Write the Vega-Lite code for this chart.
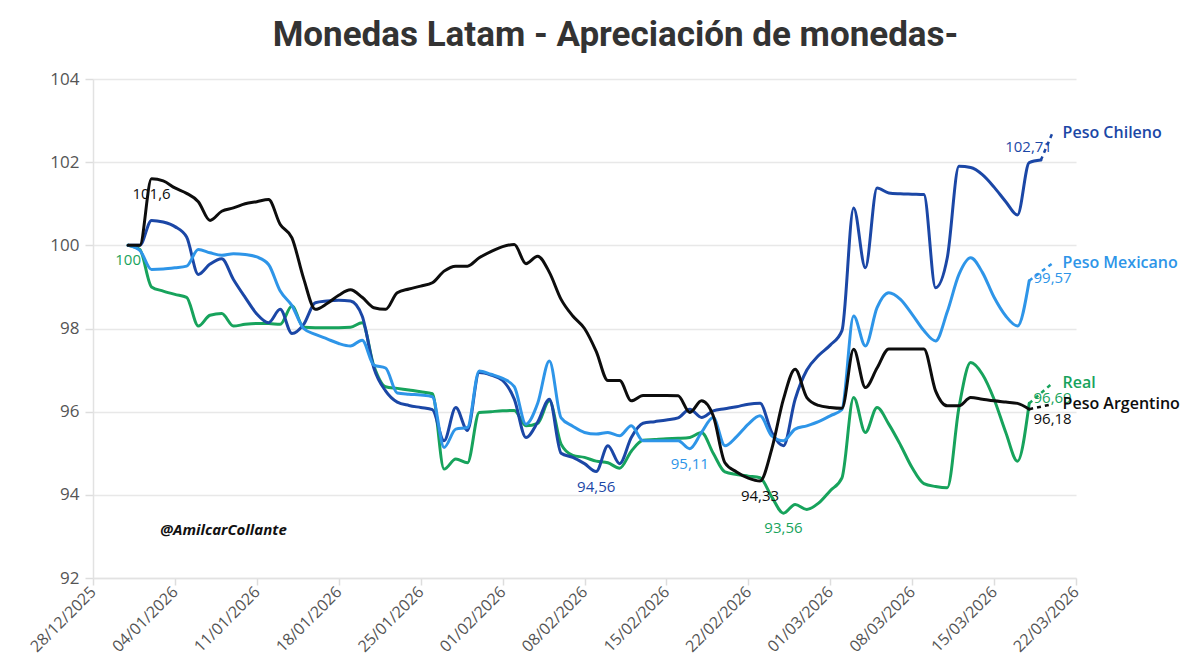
{
  "$schema": "https://vega.github.io/schema/vega-lite/v6.json",
  "width": 983,
  "height": 499,
  "autosize": {"type": "none"},
  "padding": {"left": 93, "top": 79, "right": 124, "bottom": 90},
  "background": "white",
  "title": {
    "text": "Monedas Latam - Apreciación de monedas-",
    "font": "Roboto",
    "fontSize": 35,
    "fontWeight": "bold",
    "color": "#333333",
    "anchor": "middle",
    "frame": "group",
    "dx": 31,
    "offset": 17
  },
  "config": {"view": {"stroke": null}},
  "datasets": {
    "firma": [{"date": "2026-01-03", "value": 93.15, "text": "@AmilcarCollante"}]
  },
  "data": {
    "values": [
      {"series": "Real", "date": "2025-12-31", "value": 100, "hito": true},
      {"series": "Real", "date": "2026-01-01", "value": 99.9},
      {"series": "Real", "date": "2026-01-02", "value": 99.0},
      {"series": "Real", "date": "2026-01-03", "value": 98.9},
      {"series": "Real", "date": "2026-01-04", "value": 98.82},
      {"series": "Real", "date": "2026-01-05", "value": 98.75},
      {"series": "Real", "date": "2026-01-06", "value": 98.06},
      {"series": "Real", "date": "2026-01-07", "value": 98.32},
      {"series": "Real", "date": "2026-01-08", "value": 98.36},
      {"series": "Real", "date": "2026-01-09", "value": 98.06},
      {"series": "Real", "date": "2026-01-10", "value": 98.1},
      {"series": "Real", "date": "2026-01-11", "value": 98.12},
      {"series": "Real", "date": "2026-01-12", "value": 98.12},
      {"series": "Real", "date": "2026-01-13", "value": 98.1},
      {"series": "Real", "date": "2026-01-14", "value": 98.54},
      {"series": "Real", "date": "2026-01-15", "value": 98.03},
      {"series": "Real", "date": "2026-01-16", "value": 98.02},
      {"series": "Real", "date": "2026-01-17", "value": 98.02},
      {"series": "Real", "date": "2026-01-18", "value": 98.02},
      {"series": "Real", "date": "2026-01-19", "value": 98.03},
      {"series": "Real", "date": "2026-01-20", "value": 98.14},
      {"series": "Real", "date": "2026-01-21", "value": 97.1},
      {"series": "Real", "date": "2026-01-22", "value": 96.6},
      {"series": "Real", "date": "2026-01-23", "value": 96.56},
      {"series": "Real", "date": "2026-01-24", "value": 96.52},
      {"series": "Real", "date": "2026-01-25", "value": 96.48},
      {"series": "Real", "date": "2026-01-26", "value": 96.43},
      {"series": "Real", "date": "2026-01-27", "value": 94.62},
      {"series": "Real", "date": "2026-01-28", "value": 94.86},
      {"series": "Real", "date": "2026-01-29", "value": 94.77},
      {"series": "Real", "date": "2026-01-30", "value": 95.98},
      {"series": "Real", "date": "2026-01-31", "value": 96.0},
      {"series": "Real", "date": "2026-02-01", "value": 96.02},
      {"series": "Real", "date": "2026-02-02", "value": 96.03},
      {"series": "Real", "date": "2026-02-03", "value": 95.66},
      {"series": "Real", "date": "2026-02-04", "value": 95.72},
      {"series": "Real", "date": "2026-02-05", "value": 96.26},
      {"series": "Real", "date": "2026-02-06", "value": 95.22},
      {"series": "Real", "date": "2026-02-07", "value": 94.95},
      {"series": "Real", "date": "2026-02-08", "value": 94.9},
      {"series": "Real", "date": "2026-02-09", "value": 94.81},
      {"series": "Real", "date": "2026-02-10", "value": 94.77},
      {"series": "Real", "date": "2026-02-11", "value": 94.64},
      {"series": "Real", "date": "2026-02-12", "value": 95.05},
      {"series": "Real", "date": "2026-02-13", "value": 95.31},
      {"series": "Real", "date": "2026-02-14", "value": 95.33},
      {"series": "Real", "date": "2026-02-15", "value": 95.35},
      {"series": "Real", "date": "2026-02-16", "value": 95.36},
      {"series": "Real", "date": "2026-02-17", "value": 95.38},
      {"series": "Real", "date": "2026-02-18", "value": 95.5},
      {"series": "Real", "date": "2026-02-19", "value": 95.0},
      {"series": "Real", "date": "2026-02-20", "value": 94.55},
      {"series": "Real", "date": "2026-02-21", "value": 94.49},
      {"series": "Real", "date": "2026-02-22", "value": 94.45},
      {"series": "Real", "date": "2026-02-23", "value": 94.41},
      {"series": "Real", "date": "2026-02-24", "value": 93.95},
      {"series": "Real", "date": "2026-02-25", "value": 93.56, "hito": true},
      {"series": "Real", "date": "2026-02-26", "value": 93.77},
      {"series": "Real", "date": "2026-02-27", "value": 93.65},
      {"series": "Real", "date": "2026-02-28", "value": 93.8},
      {"series": "Real", "date": "2026-03-01", "value": 94.1},
      {"series": "Real", "date": "2026-03-02", "value": 94.41},
      {"series": "Real", "date": "2026-03-03", "value": 96.34},
      {"series": "Real", "date": "2026-03-04", "value": 95.5},
      {"series": "Real", "date": "2026-03-05", "value": 96.1},
      {"series": "Real", "date": "2026-03-06", "value": 95.7},
      {"series": "Real", "date": "2026-03-07", "value": 95.2},
      {"series": "Real", "date": "2026-03-08", "value": 94.65},
      {"series": "Real", "date": "2026-03-09", "value": 94.27},
      {"series": "Real", "date": "2026-03-10", "value": 94.2},
      {"series": "Real", "date": "2026-03-11", "value": 94.17},
      {"series": "Real", "date": "2026-03-12", "value": 96.1},
      {"series": "Real", "date": "2026-03-13", "value": 97.18},
      {"series": "Real", "date": "2026-03-14", "value": 96.9},
      {"series": "Real", "date": "2026-03-15", "value": 96.3},
      {"series": "Real", "date": "2026-03-16", "value": 95.5},
      {"series": "Real", "date": "2026-03-17", "value": 94.81},
      {"series": "Real", "date": "2026-03-18", "value": 96.2},
      {"series": "Real", "date": "2026-03-20", "value": 96.69, "hito": true},

      {"series": "Peso Chileno", "date": "2025-12-31", "value": 100},
      {"series": "Peso Chileno", "date": "2026-01-01", "value": 100},
      {"series": "Peso Chileno", "date": "2026-01-02", "value": 100.6},
      {"series": "Peso Chileno", "date": "2026-01-03", "value": 100.56},
      {"series": "Peso Chileno", "date": "2026-01-04", "value": 100.45},
      {"series": "Peso Chileno", "date": "2026-01-05", "value": 100.2},
      {"series": "Peso Chileno", "date": "2026-01-06", "value": 99.3},
      {"series": "Peso Chileno", "date": "2026-01-07", "value": 99.55},
      {"series": "Peso Chileno", "date": "2026-01-08", "value": 99.68},
      {"series": "Peso Chileno", "date": "2026-01-09", "value": 99.18},
      {"series": "Peso Chileno", "date": "2026-01-10", "value": 98.75},
      {"series": "Peso Chileno", "date": "2026-01-11", "value": 98.35},
      {"series": "Peso Chileno", "date": "2026-01-12", "value": 98.14},
      {"series": "Peso Chileno", "date": "2026-01-13", "value": 98.46},
      {"series": "Peso Chileno", "date": "2026-01-14", "value": 97.88},
      {"series": "Peso Chileno", "date": "2026-01-15", "value": 98.1},
      {"series": "Peso Chileno", "date": "2026-01-16", "value": 98.62},
      {"series": "Peso Chileno", "date": "2026-01-17", "value": 98.66},
      {"series": "Peso Chileno", "date": "2026-01-18", "value": 98.68},
      {"series": "Peso Chileno", "date": "2026-01-19", "value": 98.66},
      {"series": "Peso Chileno", "date": "2026-01-20", "value": 98.3},
      {"series": "Peso Chileno", "date": "2026-01-21", "value": 97.05},
      {"series": "Peso Chileno", "date": "2026-01-22", "value": 96.5},
      {"series": "Peso Chileno", "date": "2026-01-23", "value": 96.23},
      {"series": "Peso Chileno", "date": "2026-01-24", "value": 96.15},
      {"series": "Peso Chileno", "date": "2026-01-25", "value": 96.1},
      {"series": "Peso Chileno", "date": "2026-01-26", "value": 96.05},
      {"series": "Peso Chileno", "date": "2026-01-27", "value": 95.3},
      {"series": "Peso Chileno", "date": "2026-01-28", "value": 96.1},
      {"series": "Peso Chileno", "date": "2026-01-29", "value": 95.55},
      {"series": "Peso Chileno", "date": "2026-01-30", "value": 96.94},
      {"series": "Peso Chileno", "date": "2026-01-31", "value": 96.88},
      {"series": "Peso Chileno", "date": "2026-02-01", "value": 96.75},
      {"series": "Peso Chileno", "date": "2026-02-02", "value": 96.3},
      {"series": "Peso Chileno", "date": "2026-02-03", "value": 95.38},
      {"series": "Peso Chileno", "date": "2026-02-04", "value": 95.75},
      {"series": "Peso Chileno", "date": "2026-02-05", "value": 96.3},
      {"series": "Peso Chileno", "date": "2026-02-06", "value": 95.0},
      {"series": "Peso Chileno", "date": "2026-02-07", "value": 94.9},
      {"series": "Peso Chileno", "date": "2026-02-08", "value": 94.75},
      {"series": "Peso Chileno", "date": "2026-02-09", "value": 94.56, "hito": true},
      {"series": "Peso Chileno", "date": "2026-02-10", "value": 95.18},
      {"series": "Peso Chileno", "date": "2026-02-11", "value": 94.75},
      {"series": "Peso Chileno", "date": "2026-02-12", "value": 95.38},
      {"series": "Peso Chileno", "date": "2026-02-13", "value": 95.72},
      {"series": "Peso Chileno", "date": "2026-02-14", "value": 95.76},
      {"series": "Peso Chileno", "date": "2026-02-15", "value": 95.8},
      {"series": "Peso Chileno", "date": "2026-02-16", "value": 95.85},
      {"series": "Peso Chileno", "date": "2026-02-17", "value": 96.06},
      {"series": "Peso Chileno", "date": "2026-02-18", "value": 95.86},
      {"series": "Peso Chileno", "date": "2026-02-19", "value": 96.02},
      {"series": "Peso Chileno", "date": "2026-02-20", "value": 96.07},
      {"series": "Peso Chileno", "date": "2026-02-21", "value": 96.12},
      {"series": "Peso Chileno", "date": "2026-02-22", "value": 96.18},
      {"series": "Peso Chileno", "date": "2026-02-23", "value": 96.2},
      {"series": "Peso Chileno", "date": "2026-02-24", "value": 95.5},
      {"series": "Peso Chileno", "date": "2026-02-25", "value": 95.18},
      {"series": "Peso Chileno", "date": "2026-02-26", "value": 96.3},
      {"series": "Peso Chileno", "date": "2026-02-27", "value": 97.0},
      {"series": "Peso Chileno", "date": "2026-02-28", "value": 97.35},
      {"series": "Peso Chileno", "date": "2026-03-01", "value": 97.6},
      {"series": "Peso Chileno", "date": "2026-03-02", "value": 97.95},
      {"series": "Peso Chileno", "date": "2026-03-03", "value": 100.9},
      {"series": "Peso Chileno", "date": "2026-03-04", "value": 99.46},
      {"series": "Peso Chileno", "date": "2026-03-05", "value": 101.38},
      {"series": "Peso Chileno", "date": "2026-03-06", "value": 101.26},
      {"series": "Peso Chileno", "date": "2026-03-07", "value": 101.24},
      {"series": "Peso Chileno", "date": "2026-03-08", "value": 101.23},
      {"series": "Peso Chileno", "date": "2026-03-09", "value": 101.22},
      {"series": "Peso Chileno", "date": "2026-03-10", "value": 98.98},
      {"series": "Peso Chileno", "date": "2026-03-11", "value": 99.7},
      {"series": "Peso Chileno", "date": "2026-03-12", "value": 101.9},
      {"series": "Peso Chileno", "date": "2026-03-13", "value": 101.87},
      {"series": "Peso Chileno", "date": "2026-03-14", "value": 101.7},
      {"series": "Peso Chileno", "date": "2026-03-15", "value": 101.4},
      {"series": "Peso Chileno", "date": "2026-03-16", "value": 101.05},
      {"series": "Peso Chileno", "date": "2026-03-17", "value": 100.73},
      {"series": "Peso Chileno", "date": "2026-03-18", "value": 101.99},
      {"series": "Peso Chileno", "date": "2026-03-19", "value": 102.05},
      {"series": "Peso Chileno", "date": "2026-03-20", "value": 102.71, "hito": true},

      {"series": "Peso Mexicano", "date": "2025-12-31", "value": 100},
      {"series": "Peso Mexicano", "date": "2026-01-01", "value": 99.88},
      {"series": "Peso Mexicano", "date": "2026-01-02", "value": 99.42},
      {"series": "Peso Mexicano", "date": "2026-01-03", "value": 99.43},
      {"series": "Peso Mexicano", "date": "2026-01-04", "value": 99.46},
      {"series": "Peso Mexicano", "date": "2026-01-05", "value": 99.5},
      {"series": "Peso Mexicano", "date": "2026-01-06", "value": 99.9},
      {"series": "Peso Mexicano", "date": "2026-01-07", "value": 99.82},
      {"series": "Peso Mexicano", "date": "2026-01-08", "value": 99.76},
      {"series": "Peso Mexicano", "date": "2026-01-09", "value": 99.8},
      {"series": "Peso Mexicano", "date": "2026-01-10", "value": 99.78},
      {"series": "Peso Mexicano", "date": "2026-01-11", "value": 99.72},
      {"series": "Peso Mexicano", "date": "2026-01-12", "value": 99.54},
      {"series": "Peso Mexicano", "date": "2026-01-13", "value": 98.9},
      {"series": "Peso Mexicano", "date": "2026-01-14", "value": 98.55},
      {"series": "Peso Mexicano", "date": "2026-01-15", "value": 98.0},
      {"series": "Peso Mexicano", "date": "2026-01-16", "value": 97.86},
      {"series": "Peso Mexicano", "date": "2026-01-17", "value": 97.75},
      {"series": "Peso Mexicano", "date": "2026-01-18", "value": 97.64},
      {"series": "Peso Mexicano", "date": "2026-01-19", "value": 97.58},
      {"series": "Peso Mexicano", "date": "2026-01-20", "value": 97.72},
      {"series": "Peso Mexicano", "date": "2026-01-21", "value": 97.12},
      {"series": "Peso Mexicano", "date": "2026-01-22", "value": 97.05},
      {"series": "Peso Mexicano", "date": "2026-01-23", "value": 96.45},
      {"series": "Peso Mexicano", "date": "2026-01-24", "value": 96.42},
      {"series": "Peso Mexicano", "date": "2026-01-25", "value": 96.4},
      {"series": "Peso Mexicano", "date": "2026-01-26", "value": 96.36},
      {"series": "Peso Mexicano", "date": "2026-01-27", "value": 95.14},
      {"series": "Peso Mexicano", "date": "2026-01-28", "value": 95.58},
      {"series": "Peso Mexicano", "date": "2026-01-29", "value": 95.62},
      {"series": "Peso Mexicano", "date": "2026-01-30", "value": 96.98},
      {"series": "Peso Mexicano", "date": "2026-01-31", "value": 96.9},
      {"series": "Peso Mexicano", "date": "2026-02-01", "value": 96.8},
      {"series": "Peso Mexicano", "date": "2026-02-02", "value": 96.6},
      {"series": "Peso Mexicano", "date": "2026-02-03", "value": 95.7},
      {"series": "Peso Mexicano", "date": "2026-02-04", "value": 96.2},
      {"series": "Peso Mexicano", "date": "2026-02-05", "value": 97.22},
      {"series": "Peso Mexicano", "date": "2026-02-06", "value": 95.85},
      {"series": "Peso Mexicano", "date": "2026-02-07", "value": 95.65},
      {"series": "Peso Mexicano", "date": "2026-02-08", "value": 95.5},
      {"series": "Peso Mexicano", "date": "2026-02-09", "value": 95.46},
      {"series": "Peso Mexicano", "date": "2026-02-10", "value": 95.5},
      {"series": "Peso Mexicano", "date": "2026-02-11", "value": 95.42},
      {"series": "Peso Mexicano", "date": "2026-02-12", "value": 95.66},
      {"series": "Peso Mexicano", "date": "2026-02-13", "value": 95.3},
      {"series": "Peso Mexicano", "date": "2026-02-14", "value": 95.3},
      {"series": "Peso Mexicano", "date": "2026-02-15", "value": 95.3},
      {"series": "Peso Mexicano", "date": "2026-02-16", "value": 95.3},
      {"series": "Peso Mexicano", "date": "2026-02-17", "value": 95.11, "hito": true},
      {"series": "Peso Mexicano", "date": "2026-02-18", "value": 95.5},
      {"series": "Peso Mexicano", "date": "2026-02-19", "value": 95.86},
      {"series": "Peso Mexicano", "date": "2026-02-20", "value": 95.18},
      {"series": "Peso Mexicano", "date": "2026-02-21", "value": 95.4},
      {"series": "Peso Mexicano", "date": "2026-02-22", "value": 95.7},
      {"series": "Peso Mexicano", "date": "2026-02-23", "value": 95.9},
      {"series": "Peso Mexicano", "date": "2026-02-24", "value": 95.42},
      {"series": "Peso Mexicano", "date": "2026-02-25", "value": 95.3},
      {"series": "Peso Mexicano", "date": "2026-02-26", "value": 95.58},
      {"series": "Peso Mexicano", "date": "2026-02-27", "value": 95.66},
      {"series": "Peso Mexicano", "date": "2026-02-28", "value": 95.76},
      {"series": "Peso Mexicano", "date": "2026-03-01", "value": 95.9},
      {"series": "Peso Mexicano", "date": "2026-03-02", "value": 96.05},
      {"series": "Peso Mexicano", "date": "2026-03-03", "value": 98.3},
      {"series": "Peso Mexicano", "date": "2026-03-04", "value": 97.58},
      {"series": "Peso Mexicano", "date": "2026-03-05", "value": 98.5},
      {"series": "Peso Mexicano", "date": "2026-03-06", "value": 98.86},
      {"series": "Peso Mexicano", "date": "2026-03-07", "value": 98.7},
      {"series": "Peso Mexicano", "date": "2026-03-08", "value": 98.34},
      {"series": "Peso Mexicano", "date": "2026-03-09", "value": 97.95},
      {"series": "Peso Mexicano", "date": "2026-03-10", "value": 97.7},
      {"series": "Peso Mexicano", "date": "2026-03-11", "value": 98.4},
      {"series": "Peso Mexicano", "date": "2026-03-12", "value": 99.3},
      {"series": "Peso Mexicano", "date": "2026-03-13", "value": 99.7},
      {"series": "Peso Mexicano", "date": "2026-03-14", "value": 99.35},
      {"series": "Peso Mexicano", "date": "2026-03-15", "value": 98.75},
      {"series": "Peso Mexicano", "date": "2026-03-16", "value": 98.3},
      {"series": "Peso Mexicano", "date": "2026-03-17", "value": 98.06},
      {"series": "Peso Mexicano", "date": "2026-03-18", "value": 99.15},
      {"series": "Peso Mexicano", "date": "2026-03-20", "value": 99.57, "hito": true},

      {"series": "Peso Argentino", "date": "2025-12-31", "value": 100},
      {"series": "Peso Argentino", "date": "2026-01-01", "value": 100},
      {"series": "Peso Argentino", "date": "2026-01-02", "value": 101.6, "hito": true},
      {"series": "Peso Argentino", "date": "2026-01-03", "value": 101.55},
      {"series": "Peso Argentino", "date": "2026-01-04", "value": 101.38},
      {"series": "Peso Argentino", "date": "2026-01-05", "value": 101.25},
      {"series": "Peso Argentino", "date": "2026-01-06", "value": 101.05},
      {"series": "Peso Argentino", "date": "2026-01-07", "value": 100.6},
      {"series": "Peso Argentino", "date": "2026-01-08", "value": 100.82},
      {"series": "Peso Argentino", "date": "2026-01-09", "value": 100.9},
      {"series": "Peso Argentino", "date": "2026-01-10", "value": 101.0},
      {"series": "Peso Argentino", "date": "2026-01-11", "value": 101.05},
      {"series": "Peso Argentino", "date": "2026-01-12", "value": 101.1},
      {"series": "Peso Argentino", "date": "2026-01-13", "value": 100.5},
      {"series": "Peso Argentino", "date": "2026-01-14", "value": 100.18},
      {"series": "Peso Argentino", "date": "2026-01-15", "value": 99.2},
      {"series": "Peso Argentino", "date": "2026-01-16", "value": 98.46},
      {"series": "Peso Argentino", "date": "2026-01-17", "value": 98.6},
      {"series": "Peso Argentino", "date": "2026-01-18", "value": 98.8},
      {"series": "Peso Argentino", "date": "2026-01-19", "value": 98.93},
      {"series": "Peso Argentino", "date": "2026-01-20", "value": 98.75},
      {"series": "Peso Argentino", "date": "2026-01-21", "value": 98.5},
      {"series": "Peso Argentino", "date": "2026-01-22", "value": 98.46},
      {"series": "Peso Argentino", "date": "2026-01-23", "value": 98.86},
      {"series": "Peso Argentino", "date": "2026-01-24", "value": 98.95},
      {"series": "Peso Argentino", "date": "2026-01-25", "value": 99.02},
      {"series": "Peso Argentino", "date": "2026-01-26", "value": 99.1},
      {"series": "Peso Argentino", "date": "2026-01-27", "value": 99.38},
      {"series": "Peso Argentino", "date": "2026-01-28", "value": 99.5},
      {"series": "Peso Argentino", "date": "2026-01-29", "value": 99.5},
      {"series": "Peso Argentino", "date": "2026-01-30", "value": 99.7},
      {"series": "Peso Argentino", "date": "2026-01-31", "value": 99.85},
      {"series": "Peso Argentino", "date": "2026-02-01", "value": 99.97},
      {"series": "Peso Argentino", "date": "2026-02-02", "value": 100.02},
      {"series": "Peso Argentino", "date": "2026-02-03", "value": 99.56},
      {"series": "Peso Argentino", "date": "2026-02-04", "value": 99.74},
      {"series": "Peso Argentino", "date": "2026-02-05", "value": 99.35},
      {"series": "Peso Argentino", "date": "2026-02-06", "value": 98.7},
      {"series": "Peso Argentino", "date": "2026-02-07", "value": 98.3},
      {"series": "Peso Argentino", "date": "2026-02-08", "value": 98.0},
      {"series": "Peso Argentino", "date": "2026-02-09", "value": 97.45},
      {"series": "Peso Argentino", "date": "2026-02-10", "value": 96.75},
      {"series": "Peso Argentino", "date": "2026-02-11", "value": 96.75},
      {"series": "Peso Argentino", "date": "2026-02-12", "value": 96.26},
      {"series": "Peso Argentino", "date": "2026-02-13", "value": 96.39},
      {"series": "Peso Argentino", "date": "2026-02-14", "value": 96.39},
      {"series": "Peso Argentino", "date": "2026-02-15", "value": 96.39},
      {"series": "Peso Argentino", "date": "2026-02-16", "value": 96.38},
      {"series": "Peso Argentino", "date": "2026-02-17", "value": 95.98},
      {"series": "Peso Argentino", "date": "2026-02-18", "value": 96.26},
      {"series": "Peso Argentino", "date": "2026-02-19", "value": 95.9},
      {"series": "Peso Argentino", "date": "2026-02-20", "value": 94.77},
      {"series": "Peso Argentino", "date": "2026-02-21", "value": 94.55},
      {"series": "Peso Argentino", "date": "2026-02-22", "value": 94.4},
      {"series": "Peso Argentino", "date": "2026-02-23", "value": 94.33, "hito": true},
      {"series": "Peso Argentino", "date": "2026-02-24", "value": 95.1},
      {"series": "Peso Argentino", "date": "2026-02-25", "value": 96.3},
      {"series": "Peso Argentino", "date": "2026-02-26", "value": 97.02},
      {"series": "Peso Argentino", "date": "2026-02-27", "value": 96.34},
      {"series": "Peso Argentino", "date": "2026-02-28", "value": 96.15},
      {"series": "Peso Argentino", "date": "2026-03-01", "value": 96.1},
      {"series": "Peso Argentino", "date": "2026-03-02", "value": 96.08},
      {"series": "Peso Argentino", "date": "2026-03-03", "value": 97.5},
      {"series": "Peso Argentino", "date": "2026-03-04", "value": 96.58},
      {"series": "Peso Argentino", "date": "2026-03-05", "value": 97.05},
      {"series": "Peso Argentino", "date": "2026-03-06", "value": 97.51},
      {"series": "Peso Argentino", "date": "2026-03-07", "value": 97.51},
      {"series": "Peso Argentino", "date": "2026-03-08", "value": 97.51},
      {"series": "Peso Argentino", "date": "2026-03-09", "value": 97.51},
      {"series": "Peso Argentino", "date": "2026-03-10", "value": 96.5},
      {"series": "Peso Argentino", "date": "2026-03-11", "value": 96.14},
      {"series": "Peso Argentino", "date": "2026-03-12", "value": 96.14},
      {"series": "Peso Argentino", "date": "2026-03-13", "value": 96.34},
      {"series": "Peso Argentino", "date": "2026-03-14", "value": 96.3},
      {"series": "Peso Argentino", "date": "2026-03-15", "value": 96.26},
      {"series": "Peso Argentino", "date": "2026-03-16", "value": 96.23},
      {"series": "Peso Argentino", "date": "2026-03-17", "value": 96.2},
      {"series": "Peso Argentino", "date": "2026-03-18", "value": 96.06},
      {"series": "Peso Argentino", "date": "2026-03-20", "value": 96.18, "hito": true}
    ]
  },
  "transform": [
    {
      "window": [{"op": "row_number", "as": "fromEnd"}],
      "sort": [{"field": "date", "order": "descending"}],
      "groupby": ["series"]
    },
    {"calculate": "replace(toString(datum.value), '.', ',')", "as": "txt"}
  ],
  "encoding": {
    "x": {
      "field": "date",
      "type": "temporal",
      "scale": {
        "type": "utc",
        "domain": [
          {"year": 2025, "month": 12, "date": 28, "utc": true},
          {"year": 2026, "month": 3, "date": 22, "utc": true}
        ]
      },
      "axis": {
        "title": null,
        "grid": false,
        "format": "%d/%m/%Y",
        "values": [
          {"year": 2025, "month": 12, "date": 28, "utc": true},
          {"year": 2026, "month": 1, "date": 4, "utc": true},
          {"year": 2026, "month": 1, "date": 11, "utc": true},
          {"year": 2026, "month": 1, "date": 18, "utc": true},
          {"year": 2026, "month": 1, "date": 25, "utc": true},
          {"year": 2026, "month": 2, "date": 1, "utc": true},
          {"year": 2026, "month": 2, "date": 8, "utc": true},
          {"year": 2026, "month": 2, "date": 15, "utc": true},
          {"year": 2026, "month": 2, "date": 22, "utc": true},
          {"year": 2026, "month": 3, "date": 1, "utc": true},
          {"year": 2026, "month": 3, "date": 8, "utc": true},
          {"year": 2026, "month": 3, "date": 15, "utc": true},
          {"year": 2026, "month": 3, "date": 22, "utc": true}
        ],
        "labelAngle": -45,
        "labelAlign": "right",
        "labelBaseline": "middle",
        "labelFont": "Open Sans",
        "labelFontSize": 16,
        "labelColor": "#555555",
        "labelPadding": 4,
        "labelOverlap": false,
        "tickSize": 7,
        "tickColor": "#dddddd",
        "tickWidth": 1.5,
        "domainColor": "#e2e2e2",
        "domainWidth": 1.5
      }
    },
    "y": {
      "field": "value",
      "type": "quantitative",
      "scale": {"domain": [92, 104], "nice": false, "zero": false},
      "axis": {
        "title": null,
        "values": [92, 94, 96, 98, 100, 102, 104],
        "grid": true,
        "gridColor": "#e8e8e8",
        "gridWidth": 1.5,
        "domainColor": "#e2e2e2",
        "domainWidth": 1.5,
        "tickColor": "#dddddd",
        "tickWidth": 1.5,
        "tickSize": 8,
        "labelFont": "Open Sans",
        "labelFontSize": 17,
        "labelColor": "#555555",
        "labelPadding": 6
      }
    },
    "color": {
      "field": "series",
      "type": "nominal",
      "legend": null,
      "scale": {
        "domain": ["Real", "Peso Chileno", "Peso Mexicano", "Peso Argentino"],
        "range": ["#17a35c", "#1b47a6", "#2e95e8", "#0d0d0d"]
      }
    }
  },
  "layer": [
    {
      "transform": [{"filter": "datum.fromEnd >= 2"}],
      "mark": {"type": "line", "interpolate": "monotone", "strokeWidth": 3, "strokeCap": "round", "strokeJoin": "round"}
    },
    {
      "transform": [{"filter": "datum.fromEnd <= 2"}],
      "mark": {"type": "line", "strokeWidth": 2.5, "strokeDash": [4, 4]}
    },
    {
      "transform": [{"filter": "datum.hito && !(datum.series == 'Peso Chileno' && datum.fromEnd == 1)"}],
      "mark": {"type": "text", "align": "center", "baseline": "middle", "dy": 15, "font": "Open Sans", "fontSize": 15, "fontWeight": 500},
      "encoding": {"text": {"field": "txt"}}
    },
    {
      "transform": [{"filter": "datum.series == 'Peso Chileno' && datum.fromEnd == 1"}],
      "mark": {"type": "text", "align": "center", "baseline": "middle", "dx": -24, "dy": 14, "font": "Open Sans", "fontSize": 15, "fontWeight": 500},
      "encoding": {"text": {"field": "txt"}}
    },
    {
      "transform": [{"filter": "datum.fromEnd == 1"}],
      "mark": {"type": "text", "align": "left", "baseline": "middle", "dx": 10, "font": "Open Sans", "fontSize": 16, "fontWeight": 600},
      "encoding": {"text": {"field": "series"}}
    },
    {
      "data": {"name": "firma"},
      "mark": {"type": "text", "align": "left", "baseline": "middle", "dx": -3, "font": "Open Sans", "fontSize": 15, "fontStyle": "italic", "fontWeight": "bold", "color": "#111111"},
      "encoding": {
        "x": {"field": "date", "type": "temporal"},
        "y": {"field": "value", "type": "quantitative"},
        "text": {"field": "text"},
        "color": {"value": "#111111"}
      }
    }
  ]
}
